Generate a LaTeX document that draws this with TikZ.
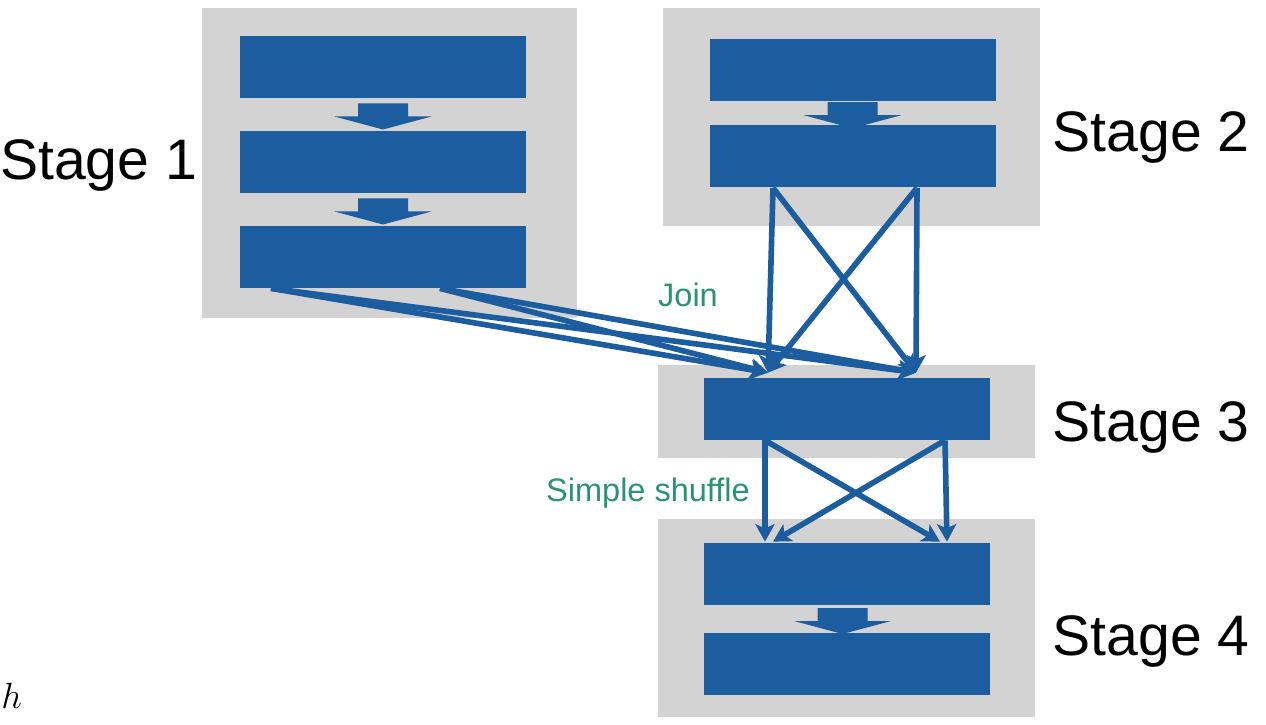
\documentclass[tikz,border=0pt]{standalone}
\usepackage{fontspec}
\newfontfamily\arialfont{Liberation Sans}
\usetikzlibrary{arrows.meta, calc}

\definecolor{boxblue}{RGB}{28,93,160}
\definecolor{panelgray}{RGB}{211,211,211}
\definecolor{labelgreen}{RGB}{42,148,112}

\tikzset{
	panel/.style={fill=panelgray, draw=none, inner sep=0pt},
	bluebox/.style={fill=boxblue, draw=none, inner sep=0pt, minimum width=5.72cm, minimum height=1.24cm},
	flow/.style={draw=boxblue, line width=3.2pt, -{Stealth[length=10pt,width=11pt,inset=2.5pt]}},
	stagelabel/.style={font=\arialfont\fontsize{32.5}{39}\selectfont},
	edgelabel/.style={text=labelgreen, font=\arialfont\fontsize{18.5}{22}\selectfont},
	blockarrow/.pic={
		\fill[boxblue] (-0.5,0.22) -- (0.5,0.22) -- (0.5,-0.04) -- (0.97,-0.04) -- (0,-0.30) -- (-0.97,-0.04) -- (-0.5,-0.04) -- cycle;
	}
}

\begin{document}
\begin{tikzpicture}
		\useasboundingbox (0,0) rectangle (25.32,-14.5);

		% Gray panels of the four stages
		\node[panel, minimum width=7.5cm, minimum height=6.2cm] (p1) at (7.79,-3.26) {};
		\node[panel, minimum width=7.54cm, minimum height=4.36cm] (p2) at (17.03,-2.34) {};
		\node[panel, minimum width=7.54cm, minimum height=1.86cm] (p3) at (16.93,-8.23) {};
		\node[panel, minimum width=7.54cm, minimum height=3.96cm] (p4) at (16.93,-12.36) {};

		% Stage 1 boxes
		\node[bluebox] (s1a) at (7.66,-1.34) {};
		\node[bluebox] (s1b) at (7.66,-3.24) {};
		\node[bluebox] (s1c) at (7.66,-5.14) {};
		\pic at ($(s1a.south)!0.5!(s1b.north)$) {blockarrow};
		\pic at ($(s1b.south)!0.5!(s1c.north)$) {blockarrow};

		% Stage 2 boxes
		\node[bluebox] (s2a) at (17.05,-1.40) {};
		\node[bluebox] (s2b) at (17.05,-3.13) {};
		\pic at ($(s2a.south)!0.5!(s2b.north)$) {blockarrow};

		% Stage 3 box
		\node[bluebox] (s3) at (16.94,-8.18) {};

		% Stage 4 boxes
		\node[bluebox] (s4a) at (16.94,-11.48) {};
		\node[bluebox] (s4b) at (16.94,-13.28) {};
		\pic at ([xshift=-0.09cm]$(s4a.south)!0.5!(s4b.north)$) {blockarrow};

		% Join: stage 1 and stage 2 into stage 3
		\draw[flow] ([xshift=-2.24cm]s1c.south) -- ([xshift=-1.58cm,yshift=0.1cm]s3.north);
		\draw[flow] ([xshift=-2.24cm]s1c.south) -- ([xshift=1.38cm,yshift=0.1cm]s3.north);
		\draw[flow] ([xshift=1.14cm]s1c.south) -- ([xshift=-1.58cm,yshift=0.1cm]s3.north);
		\draw[flow] ([xshift=1.14cm]s1c.south) -- ([xshift=1.38cm,yshift=0.1cm]s3.north);
		\draw[flow] ([xshift=-1.59cm]s2b.south) -- ([xshift=-1.58cm,yshift=0.1cm]s3.north);
		\draw[flow] ([xshift=-1.59cm]s2b.south) -- ([xshift=1.38cm,yshift=0.1cm]s3.north);
		\draw[flow] ([xshift=1.29cm]s2b.south) -- ([xshift=-1.58cm,yshift=0.1cm]s3.north);
		\draw[flow] ([xshift=1.29cm]s2b.south) -- ([xshift=1.38cm,yshift=0.1cm]s3.north);

		% Simple shuffle: stage 3 into stage 4
		\draw[flow] ([xshift=-1.64cm]s3.south) -- ([xshift=-1.64cm,yshift=0.02cm]s4a.north);
		\draw[flow] ([xshift=-1.64cm]s3.south) -- ([xshift=1.86cm,yshift=0.02cm]s4a.north);
		\draw[flow] ([xshift=1.96cm]s3.south) -- ([xshift=-1.48cm,yshift=0.02cm]s4a.north);
		\draw[flow] ([xshift=1.96cm]s3.south) -- ([xshift=2.0cm,yshift=0.02cm]s4a.north);

		% Labels
		\node[stagelabel] (l1) at (1.97,-3.3) {Stage 1};
		\node[stagelabel] (l2) at (23.02,-2.74) {Stage 2};
		\node[stagelabel] (l3) at (23.02,-8.54) {Stage 3};
		\node[stagelabel] (l4) at (23.02,-12.82) {Stage 4};
		\node[edgelabel] (join) at (13.76,-5.9) {Join};
		\node[edgelabel] (shuffle) at (12.96,-9.86) {Simple shuffle};
		\node[anchor=base west, inner sep=0pt, font=\fontsize{20}{24}\selectfont] (hh) at (0.02,-14.16) {$h$};
	\end{tikzpicture}
\end{document}
